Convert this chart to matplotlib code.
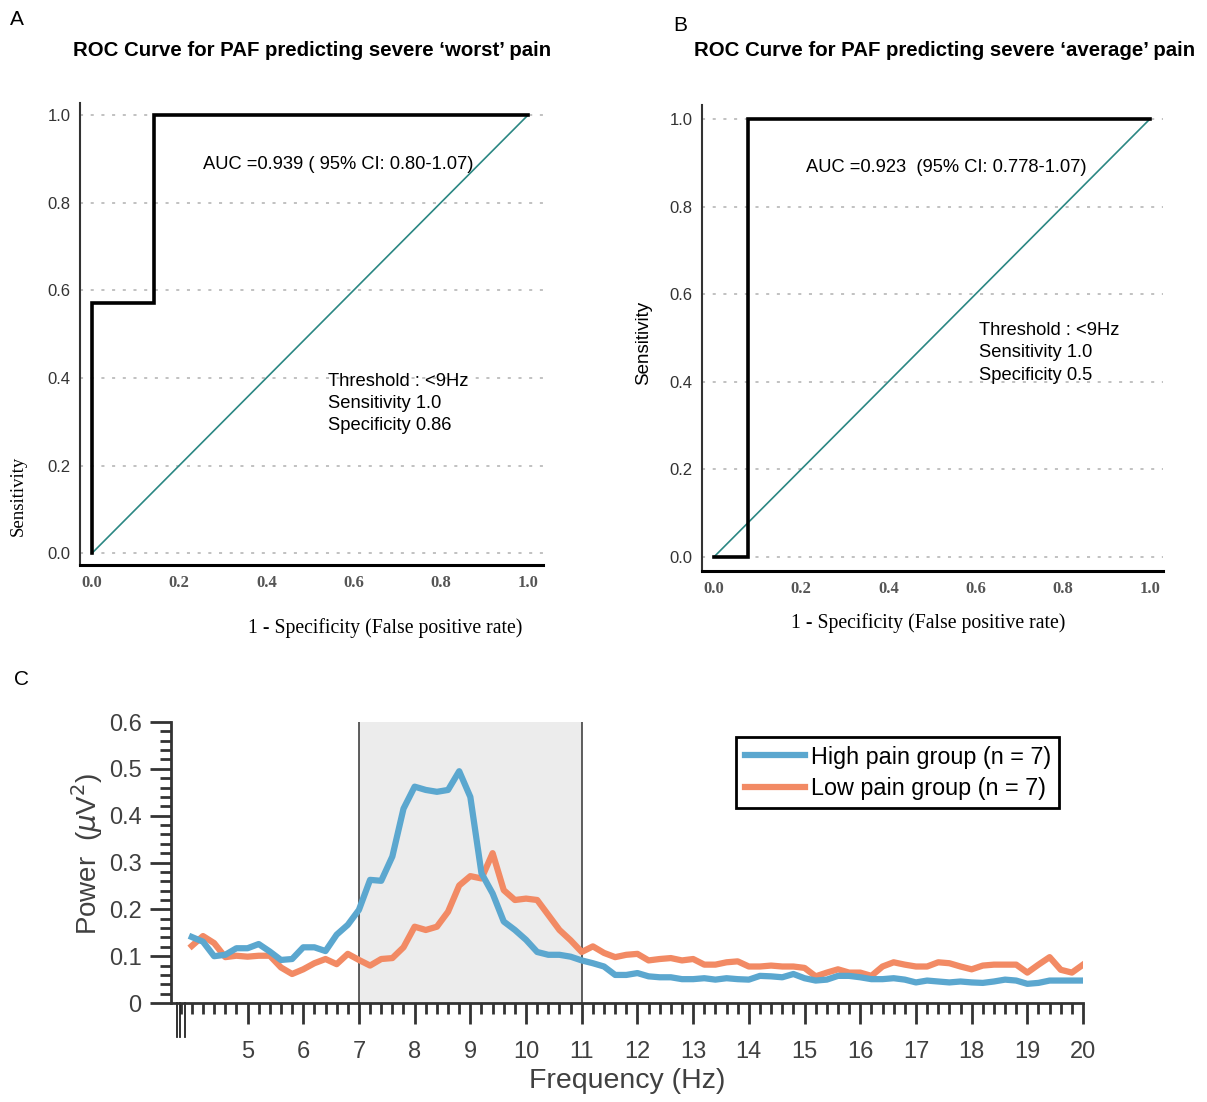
import numpy as np
import matplotlib
matplotlib.use("Agg")
import matplotlib.pyplot as plt
from matplotlib.ticker import MultipleLocator, FixedLocator

# ---- ROC data ----
roc_a_fpr = [0.0, 0.0, 0.143, 0.143, 1.0]
roc_a_tpr = [0.0, 0.571, 0.571, 1.0, 1.0]
roc_b_fpr = [0.0, 0.077, 0.077, 1.0]
roc_b_tpr = [0.0, 0.0, 1.0, 1.0]
chance = [0.0, 1.0]
roc_ticks = [0.0, 0.2, 0.4, 0.6, 0.8, 1.0]
roc_ticklabels = ["0.0", "0.2", "0.4", "0.6", "0.8", "1.0"]

# ---- power spectrum data (0.2 Hz bins from 4 to 20 Hz) ----
freq = np.round(np.arange(4.0, 20.01, 0.2), 1)
high_pain = [
    0.141, 0.131, 0.100, 0.103, 0.117, 0.117, 0.126, 0.110, 0.092, 0.094,
    0.119, 0.119, 0.111, 0.146, 0.167, 0.199, 0.263, 0.261, 0.313, 0.415,
    0.462, 0.455, 0.451, 0.455, 0.495, 0.440, 0.277, 0.234, 0.174, 0.156,
    0.135, 0.109, 0.103, 0.103, 0.099, 0.091,
    0.085, 0.078, 0.060, 0.060, 0.064, 0.057, 0.055, 0.055, 0.051, 0.051,
    0.053, 0.050, 0.053, 0.051, 0.050, 0.058, 0.057, 0.055, 0.062, 0.053,
    0.048, 0.050, 0.058, 0.058, 0.055, 0.051, 0.051, 0.053, 0.050, 0.044,
    0.048, 0.046, 0.044, 0.046, 0.044, 0.043, 0.046, 0.050, 0.048, 0.041,
    0.043, 0.048, 0.048, 0.048, 0.048,
]
low_pain = [
    0.122, 0.143, 0.128, 0.098, 0.101, 0.099, 0.101, 0.101, 0.076, 0.062,
    0.072, 0.085, 0.094, 0.083, 0.105, 0.092, 0.080, 0.094, 0.096, 0.119,
    0.163, 0.156, 0.163, 0.195, 0.251, 0.271, 0.266, 0.320, 0.241, 0.220,
    0.223, 0.220, 0.188, 0.156, 0.134, 0.109,
    0.121, 0.107, 0.098, 0.103, 0.105, 0.091, 0.094, 0.096, 0.091, 0.094,
    0.082, 0.082, 0.087, 0.089, 0.078, 0.078, 0.080, 0.078, 0.078, 0.075,
    0.057, 0.065, 0.072, 0.065, 0.065, 0.058, 0.078, 0.087, 0.082, 0.078,
    0.078, 0.087, 0.085, 0.078, 0.072, 0.080, 0.082, 0.082, 0.082, 0.065,
    0.082, 0.098, 0.071, 0.065, 0.082,
]
alpha_band = (7, 11)
freq_ticks = list(range(5, 21))
odd_ticks = [3.73, 3.79, 3.87]

SANS = "Liberation Sans"
SERIF = "Liberation Serif"
TEAL = "#2b8783"
GRID = "#b0b0b0"

fig = plt.figure(figsize=(12.07, 11.02), dpi=100)


def roc_panel(rect, fpr, tpr, xlim, ylim):
    ax = fig.add_axes(rect)
    ax.set_xlim(*xlim)
    ax.set_ylim(*ylim)
    for y in roc_ticks:
        ax.axhline(y, color=GRID, lw=1.1, ls=(0, (2, 5)), zorder=0)
    ax.plot(chance, chance, color=TEAL, lw=1.2, zorder=2)
    ax.plot(fpr, tpr, color="black", lw=2.6, zorder=3, solid_joinstyle="miter")
    ax.spines["top"].set_visible(False)
    ax.spines["right"].set_visible(False)
    ax.spines["left"].set_linewidth(1.5)
    ax.spines["left"].set_color("#333333")
    ax.spines["bottom"].set_linewidth(2.2)
    ax.set_xticks(roc_ticks)
    ax.set_xticklabels(roc_ticklabels, fontfamily=SERIF, fontsize=12,
                       color="#555555", fontweight="bold")
    ax.set_yticks(roc_ticks)
    ax.set_yticklabels(roc_ticklabels, fontfamily=SANS, fontsize=12, color="#333333")
    ax.tick_params(length=0, pad=7)
    return ax


# ---- panel A ----
axA = roc_panel([0.0663, 0.4873, 0.3836, 0.4192], roc_a_fpr, roc_a_tpr,
                (-0.0275, 1.034), (-0.027, 1.027))
axA.text(0.255, 0.886, "AUC =0.939 ( 95% CI: 0.80-1.07)", fontfamily=SANS,
         fontsize=13.2, va="center")
axA.text(0.541, 0.412, "Threshold : <9Hz\nSensitivity 1.0\nSpecificity 0.86",
         fontfamily=SANS, fontsize=13.2, va="top", linespacing=1.4)
axA.set_xlabel("1 - Specificity (False positive rate)", fontfamily=SERIF,
               fontsize=14.2)
axA.xaxis.set_label_coords(0.66, -0.115)
axA.set_ylabel("Sensitivity", fontfamily=SERIF, fontsize=13.5)
axA.yaxis.set_label_coords(-0.115, 0.15)
fig.text(0.2585, 0.954, "ROC Curve for PAF predicting severe \u2018worst\u2019 pain",
         fontfamily=SANS, fontsize=14.7, fontweight="bold", ha="center", va="center")
fig.text(0.008, 0.982, "A", fontfamily=SANS, fontsize=15, va="center")

# ---- panel B ----
axB = roc_panel([0.5816, 0.4819, 0.3819, 0.4228], roc_b_fpr, roc_b_tpr,
                (-0.0275, 1.03), (-0.032, 1.032))
axB.text(0.211, 0.89, "AUC =0.923  (95% CI: 0.778-1.07)", fontfamily=SANS,
         fontsize=13.2, va="center")
axB.text(0.608, 0.536, "Threshold : <9Hz\nSensitivity 1.0\nSpecificity 0.5",
         fontfamily=SANS, fontsize=13.2, va="top", linespacing=1.4)
axB.set_xlabel("1 - Specificity (False positive rate)", fontfamily=SERIF,
               fontsize=14.2)
axB.xaxis.set_label_coords(0.49, -0.09)
axB.set_ylabel("Sensitivity", fontfamily=SANS, fontsize=13.5)
axB.yaxis.set_label_coords(-0.108, 0.49)
fig.text(0.7825, 0.954, "ROC Curve for PAF predicting severe \u2018average\u2019 pain",
         fontfamily=SANS, fontsize=14.7, fontweight="bold", ha="center", va="center")
fig.text(0.558, 0.977, "B", fontfamily=SANS, fontsize=15, va="center")

# ---- panel C ----
axC = fig.add_axes([0.1414, 0.0898, 0.7559, 0.2550])
axC.axvspan(*alpha_band, color="#ececec", zorder=0, lw=0)
for f in alpha_band:
    axC.axvline(f, color="#333333", lw=1.1, zorder=1)
axC.plot(freq, high_pain, color="#5ba7cf", lw=4.5, label="High pain group (n = 7)",
         zorder=3, solid_joinstyle="round")
axC.plot(freq, low_pain, color="#f28a64", lw=4.5, label="Low pain group (n = 7)",
         zorder=2, solid_joinstyle="round")
axC.set_xlim(3.62, 20.0)
axC.set_ylim(0, 0.6)
for s in ["top", "right"]:
    axC.spines[s].set_visible(False)
for s in ["left", "bottom"]:
    axC.spines[s].set_linewidth(2)
    axC.spines[s].set_color("#333333")
axC.xaxis.set_major_locator(FixedLocator(freq_ticks))
axC.xaxis.set_minor_locator(MultipleLocator(0.2))
axC.yaxis.set_major_locator(MultipleLocator(0.1))
axC.yaxis.set_minor_locator(MultipleLocator(0.02))
axC.set_yticks([0, 0.1, 0.2, 0.3, 0.4, 0.5, 0.6])
axC.set_yticklabels(["0", "0.1", "0.2", "0.3", "0.4", "0.5", "0.6"])
axC.tick_params(which="major", length=15, width=2, color="#333333",
                labelsize=17, labelcolor="#404040", pad=6)
axC.tick_params(which="minor", length=8, width=2, color="#333333")
axC.tick_params(axis="x", which="major", pad=12)
for f in odd_ticks:
    axC.plot([f, f], [0, -0.12], transform=axC.get_xaxis_transform(),
             color="#222222", lw=1.3, clip_on=False)
for lab in axC.get_xticklabels() + axC.get_yticklabels():
    lab.set_fontfamily(SANS)
axC.set_xlabel("Frequency (Hz)", fontfamily=SANS, fontsize=20.5, color="#404040",
               labelpad=4)
axC.set_ylabel("Power  ($\\mu$V$^2$)", fontfamily=SANS, fontsize=20,
               color="#404040")
axC.yaxis.set_label_coords(-0.072, 0.53)
leg = axC.legend(loc="upper left", bbox_to_anchor=(0.62, 0.945), borderaxespad=0,
                 fancybox=False, edgecolor="black", framealpha=1,
                 prop={"family": SANS, "size": 16.8}, handlelength=2.6,
                 handletextpad=0.25, borderpad=0.35, labelspacing=0.35)
leg.get_frame().set_linewidth(2)
fig.text(0.012, 0.383, "C", fontfamily=SANS, fontsize=15, va="center")

fig.savefig("out.png", dpi=100)
